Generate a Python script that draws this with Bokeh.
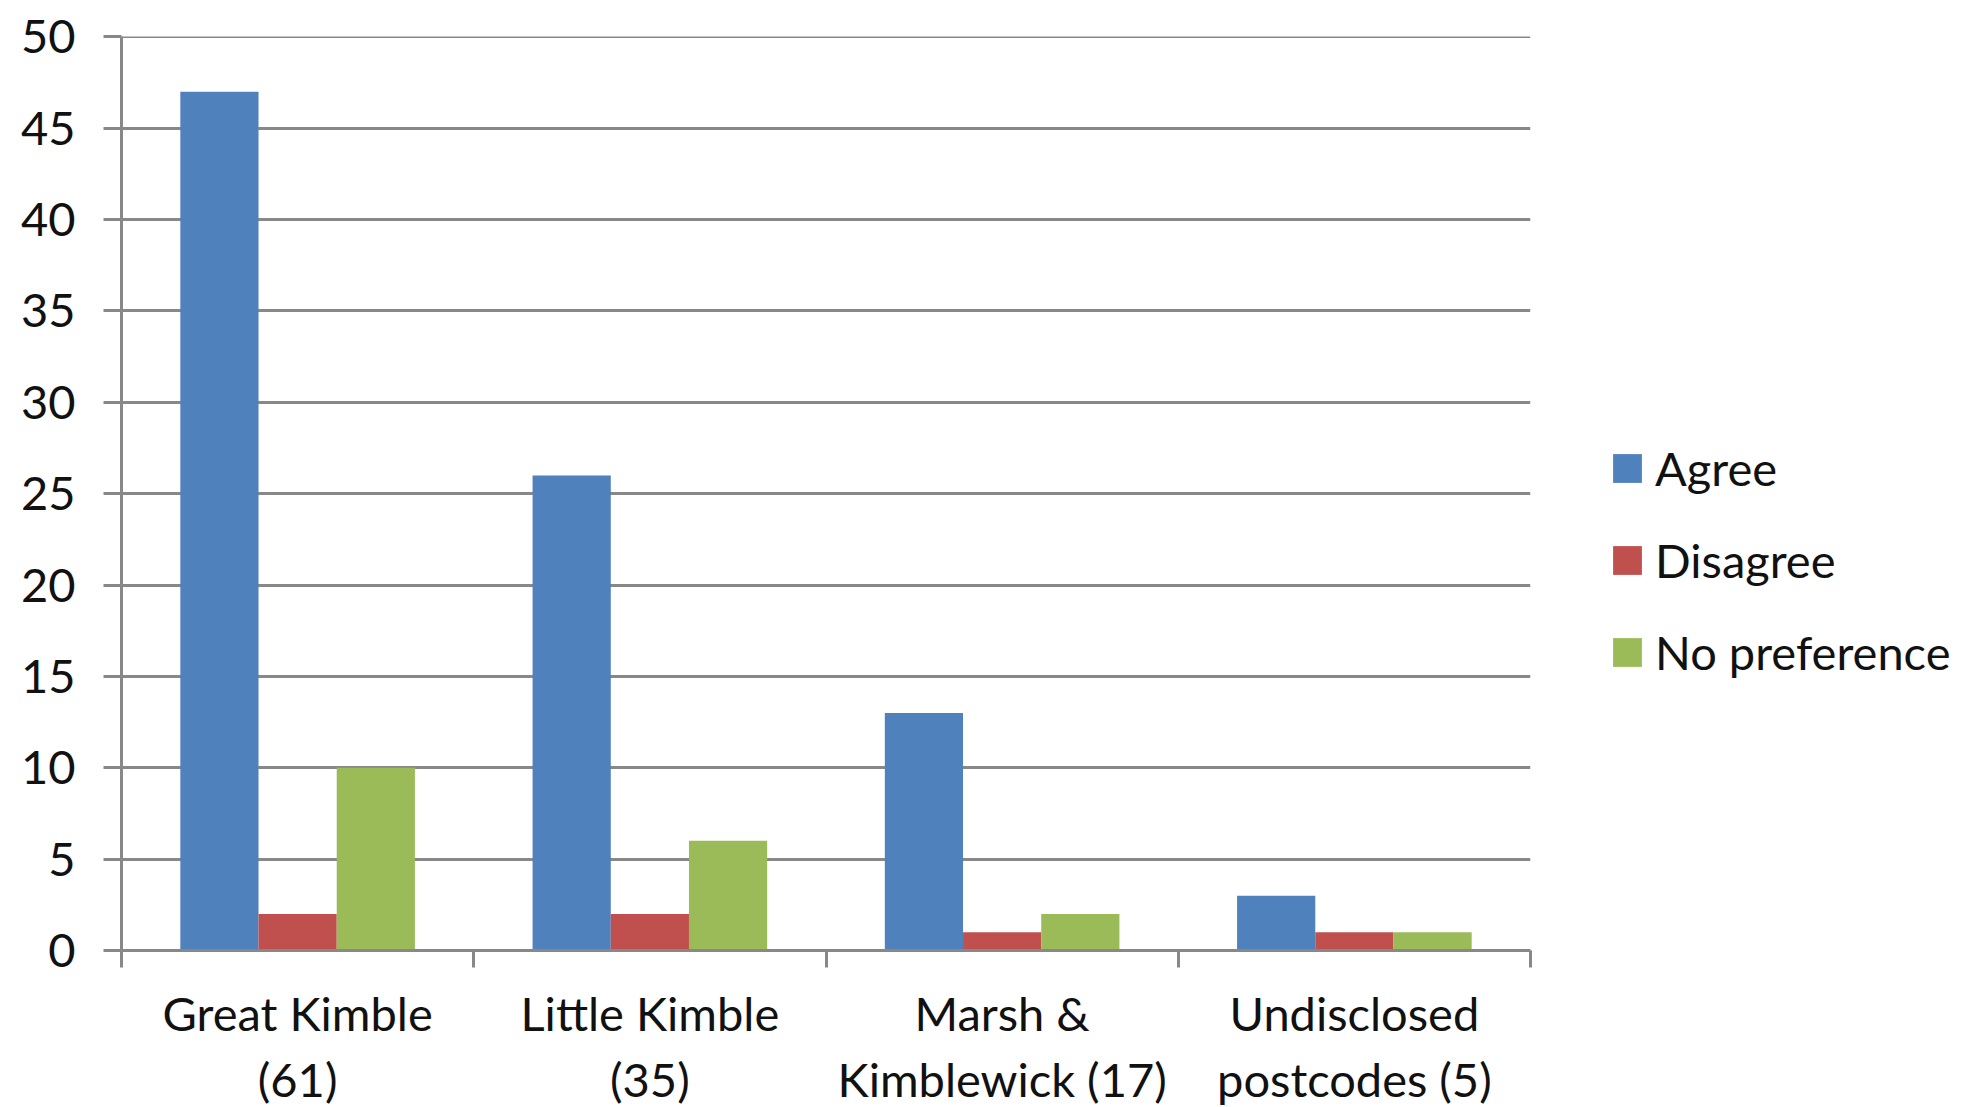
from bokeh.plotting import figure
from bokeh.models import Range1d, FixedTicker, Legend, LegendItem, LinearAxis
from bokeh.embed import file_html
from bokeh.resources import INLINE

categories = ["Great Kimble\n(61)", "Little Kimble\n(35)", "Marsh &\nKimblewick (17)", "Undisclosed\npostcodes (5)"]
series_names = ["Agree", "Disagree", "No preference"]
agree = [47, 26, 13, 3]
disagree = [2, 2, 1, 1]
no_pref = [10, 6, 2, 1]
y_ticks = [0, 5, 10, 15, 20, 25, 30, 35, 40, 45, 50]

colors = ["#4F81BD", "#C0504D", "#9BBB59"]
FONT = "Lato"
GRID = "#888888"
TXT = "#111111"
FS = "47px"

n = len(categories)
p = figure(frame_width=1409, frame_height=914,
           min_border_left=121, min_border_right=430, min_border_top=36, min_border_bottom=155,
           x_range=Range1d(0, n), y_range=Range1d(0, 50.02),
           output_backend="svg", toolbar_location=None, x_axis_location=None)
p.outline_line_color = None
p.background_fill_color = "white"
p.border_fill_color = "white"

bw = 0.222
offsets = [-bw, 0, bw]
renderers = []
for vals, off, col in zip([agree, disagree, no_pref], offsets, colors):
    xs = [i + 0.5 + off for i in range(n)]
    r = p.vbar(x=xs, top=vals, width=bw, bottom=0, fill_color=col, line_color=None)
    renderers.append(r)

# y axis
ya = p.yaxis[0]
ya.ticker = FixedTicker(ticks=y_ticks, minor_ticks=[])
ya.axis_line_color = GRID
ya.axis_line_width = 3
ya.major_tick_line_color = GRID
ya.major_tick_line_width = 3
ya.major_tick_out = 18
ya.major_tick_in = 0
ya.minor_tick_line_color = None
ya.major_label_standoff = 28
ya.major_label_text_font = FONT
ya.major_label_text_font_size = FS
ya.major_label_text_color = TXT

p.xgrid.grid_line_color = None
p.ygrid.ticker = FixedTicker(ticks=y_ticks)
p.ygrid.grid_line_color = GRID
p.ygrid.grid_line_width = 3

# x axis: labels at centers, ticks at boundaries
xa = LinearAxis(ticker=FixedTicker(ticks=[i + 0.5 for i in range(n)], minor_ticks=list(range(n + 1))))
xa.major_label_overrides = {i + 0.5: categories[i] for i in range(n)}
xa.axis_line_color = GRID
xa.axis_line_width = 3
xa.major_tick_line_color = None
xa.major_tick_out = 0
xa.major_tick_in = 0
xa.minor_tick_line_color = GRID
xa.minor_tick_line_width = 3
xa.minor_tick_out = 17
xa.minor_tick_in = 0
xa.major_label_standoff = 17
xa.major_label_text_font = FONT
xa.major_label_text_font_size = FS
xa.major_label_text_color = TXT
xa.major_label_text_line_height = 1.18
p.add_layout(xa, "below")

legend = Legend(items=[LegendItem(label=nm, renderers=[r]) for nm, r in zip(series_names, renderers)],
                location=(79, 270))
legend.border_line_color = None
legend.background_fill_alpha = 0
legend.padding = 0
legend.margin = 0
legend.glyph_width = 36
legend.glyph_height = 36
legend.label_standoff = 10
legend.spacing = 36
legend.label_text_font = FONT
legend.label_text_font_size = FS
legend.label_text_color = TXT
p.add_layout(legend, "right")

open("out.html", "w").write(file_html(p, INLINE))
